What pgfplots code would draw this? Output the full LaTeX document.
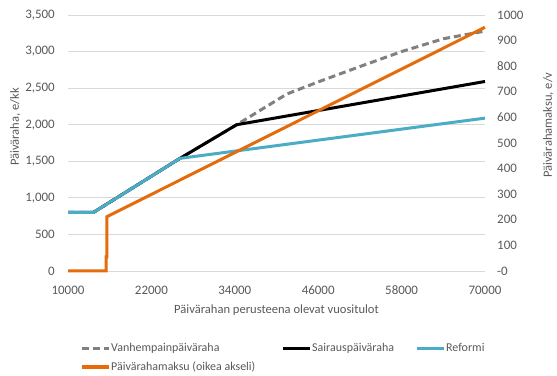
\documentclass[border=0pt]{standalone}
\usepackage{pgfplots}
\pgfplotsset{compat=1.18}
\usepackage{fontspec}
\setmainfont{Carlito}
\definecolor{txt}{HTML}{595959}
\definecolor{grd}{HTML}{D9D9D9}
\definecolor{cyanl}{HTML}{4BACC6}
\definecolor{orng}{HTML}{E46C0A}
\definecolor{dgray}{HTML}{808080}
\begin{document}
\begin{tikzpicture}[font=\fontsize{12}{14}\selectfont]
\useasboundingbox (0,0) rectangle (557bp,376bp);
\pgfplotsset{
  base/.style={scale only axis, width=417bp, height=256bp, at={(68bp,105bp)}, anchor=south west,
    xmin=10000, xmax=70000, axis line style={draw=none}, tick style={draw=none},
    scaled x ticks=false, scaled y ticks=false,
    ticklabel style={text=txt, font=\fontsize{13}{15}\selectfont},
    /pgf/number format/assume math mode=true,
    label style={text=txt, font=\fontsize{12.6}{15}\selectfont},
    clip=false,
  }
}
\begin{axis}[base,
  ymin=0, ymax=3500, ytick={0,500,...,3500},
  yticklabels={0,500,{1,000},{1,500},{2,000},{2,500},{3,000},{3,500}},
  xtick={10000,22000,34000,46000,58000,70000},
  xticklabels={10000,22000,34000,46000,58000,70000},
  xticklabel style={anchor=center, inner sep=0pt, yshift=-19.5bp},
  yticklabel style={anchor=east, inner sep=0pt, xshift=-13bp},
  ymajorgrids, grid style={grd, line width=0.75bp},
  xlabel={Päivärahan perusteena olevat vuositulot},
  xlabel style={at={(axis description cs:0.5,-0.152)}, anchor=center},
  ylabel={Päiväraha, e/kk},
  ylabel style={at={(axis description cs:-0.1264,0.5625)}, anchor=center, rotate=0},
  legend columns=3,
  legend image code/.code={\draw[#1] (0bp,0bp) -- (27bp,0bp);},
  legend style={draw=none, fill=none, at={(axis description cs:0,0)}, anchor=north west,
    xshift=12bp, yshift=-71bp, column sep=0pt, row sep=6.8bp, inner sep=0pt,
    font=\fontsize{12}{14}\selectfont,
    nodes={inner ysep=0pt, inner xsep=1bp, text=txt, text height=9bp, text depth=3bp, anchor=west}},
]
\addplot[dgray, line width=3bp, dash pattern=on 7bp off 4bp] coordinates {
(10000,800)(13640,800)(26115,1540)(34273,2000)(41500,2420)(46000,2585)(52000,2795)(58000,3000)(64000,3175)(70000,3280)};
\addlegendentry{\makebox[169bp][l]{Vanhempainpäiväraha}}
\addplot[black, line width=3bp] coordinates {
(10000,800)(13640,800)(26115,1540)(34273,2000)(70000,2591)};
\addlegendentry{\makebox[102bp][l]{Sairauspäiväraha}}
\addplot[cyanl, line width=3bp] coordinates {
(10000,800)(13640,800)(26115,1540)(70000,2090)};
\addlegendentry{Reformi}
\addlegendimage{orng, line width=3bp}
\addlegendentry{Päivärahamaksu (oikea akseli)}
\end{axis}
\begin{axis}[base,
  ymin=0, ymax=1000, ytick={0,100,...,1000},
  yticklabels={-0,100,200,300,400,500,600,700,800,900,1000},
  axis y line*=right, hide x axis,
  yticklabel style={anchor=west, inner sep=0pt, xshift=12bp},
  ylabel={Päivärahamaksu, e/v},
  ylabel style={at={(axis description cs:1.152,0.570)}, anchor=center, rotate=0},
]
\addplot[orng, line width=3bp] coordinates {
(10000,0)(15500,0)(15500,55)(15580,55)(15580,212)(70000,952)};
\end{axis}
\end{tikzpicture}
\end{document}
